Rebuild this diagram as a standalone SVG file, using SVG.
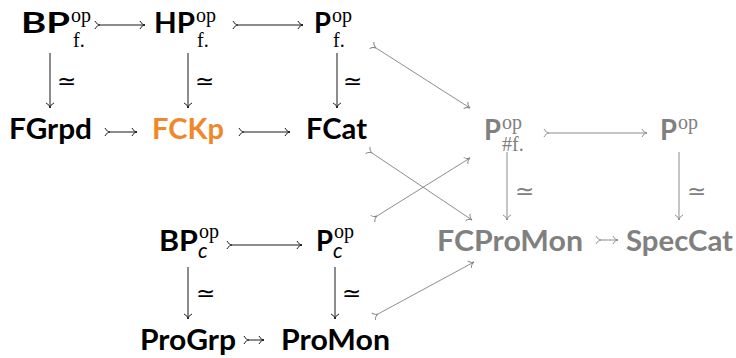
<svg xmlns="http://www.w3.org/2000/svg" width="736" height="358" viewBox="0 0 736 358">
<style>
.b{font-family:Lato,"Open Sans","Liberation Sans",sans-serif;font-weight:700;font-size:28px;fill:#000}
.s{font-family:"Liberation Serif","DejaVu Serif",serif;font-size:20px;fill:#000}
.i{font-family:Lato,"Open Sans",sans-serif;font-style:italic;font-size:21px;fill:#000}
.eq{font-family:"DejaVu Sans",sans-serif;font-weight:200;font-size:23px;fill:#000}
.g{fill:#808080}
.o{fill:#f0882a}
.k{fill:none;stroke:#000;stroke-width:0.9}
.kg{fill:none;stroke:#808080;stroke-width:0.9}
</style>
<defs>
<marker id="hb" viewBox="-6 -5 7 10" refX="0" refY="0" markerWidth="7" markerHeight="10" markerUnits="userSpaceOnUse" orient="auto"><path d="M-5,-4 C-4,-1.5 -1.5,-0.3 0,0 C-1.5,0.3 -4,1.5 -5,4" fill="none" stroke="#000" stroke-width="0.9"/></marker>
<marker id="hg" viewBox="-6 -5 7 10" refX="0" refY="0" markerWidth="7" markerHeight="10" markerUnits="userSpaceOnUse" orient="auto"><path d="M-5,-4 C-4,-1.5 -1.5,-0.3 0,0 C-1.5,0.3 -4,1.5 -5,4" fill="none" stroke="#808080" stroke-width="0.9"/></marker>
</defs>
<g id="connectors">
<path class="k" d="M100,25H145" marker-start="url(#hb)" marker-end="url(#hb)"/>
<path class="k" d="M238,25H303" marker-start="url(#hb)" marker-end="url(#hb)"/>
<path class="k" d="M110,132H137" marker-start="url(#hb)" marker-end="url(#hb)"/>
<path class="k" d="M244,132H290" marker-start="url(#hb)" marker-end="url(#hb)"/>
<path class="k" d="M232,245H302" marker-start="url(#hb)" marker-end="url(#hb)"/>
<path class="k" d="M249,340H264" marker-start="url(#hb)" marker-end="url(#hb)"/>
<path class="k" d="M50,53V108" marker-end="url(#hb)"/>
<path class="k" d="M188,53V108" marker-end="url(#hb)"/>
<path class="k" d="M337,53V108" marker-end="url(#hb)"/>
<path class="k" d="M188,267V319" marker-end="url(#hb)"/>
<path class="k" d="M335,267V319" marker-end="url(#hb)"/>
<text class="eq" x="57" y="89">≃</text>
<text class="eq" x="195" y="89">≃</text>
<text class="eq" x="343" y="89">≃</text>
<text class="eq" x="196" y="301">≃</text>
<text class="eq" x="342" y="301">≃</text>
<path class="kg" d="M549,133H647" marker-start="url(#hg)" marker-end="url(#hg)"/>
<path class="kg" d="M601,240H618" marker-start="url(#hg)" marker-end="url(#hg)"/>
<path class="kg" d="M507,152V220" marker-end="url(#hg)"/>
<path class="kg" d="M679,152V220" marker-end="url(#hg)"/>
<text class="eq g" x="515" y="199">≃</text>
<text class="eq g" x="687" y="199">≃</text>
<path class="kg" d="M376,48L470,108" marker-start="url(#hg)" marker-end="url(#hg)"/>
<path class="kg" d="M372,153L472,220" marker-start="url(#hg)" marker-end="url(#hg)"/>
<path class="kg" d="M377,216L470,158" marker-start="url(#hg)" marker-end="url(#hg)"/>
<path class="kg" d="M378,314L474,262" marker-start="url(#hg)" marker-end="url(#hg)"/>
</g>
<g id="BPf">
<text class="b" x="21" y="33" textLength="49" lengthAdjust="spacingAndGlyphs">BP</text>
<text class="s" x="71" y="22">op</text>
<text class="s" x="73" y="47">f.</text>
</g>
<g id="HPf">
<text class="b" x="154" y="33" textLength="41" lengthAdjust="spacingAndGlyphs">HP</text>
<text class="s" x="196" y="22">op</text>
<text class="s" x="197" y="47">f.</text>
</g>
<g id="Pf">
<text class="b" x="314" y="33" textLength="17" lengthAdjust="spacingAndGlyphs">P</text>
<text class="s" x="332" y="22">op</text>
<text class="s" x="333" y="47">f.</text>
</g>
<g id="FGrpd"><text class="b" x="9" y="139" textLength="83" lengthAdjust="spacingAndGlyphs">FGrpd</text></g>
<g id="FCKp"><text class="b o" x="152" y="139" textLength="72" lengthAdjust="spacingAndGlyphs">FCKp</text></g>
<g id="FCat"><text class="b" x="306" y="139" textLength="61" lengthAdjust="spacingAndGlyphs">FCat</text></g>
<g id="Psf">
<text class="b g" x="484" y="140" textLength="17" lengthAdjust="spacingAndGlyphs">P</text>
<text class="s g" x="502" y="129">op</text>
<text class="s g" x="502" y="151">#f.</text>
</g>
<g id="Pop">
<text class="b g" x="660" y="140" textLength="17" lengthAdjust="spacingAndGlyphs">P</text>
<text class="s g" x="678" y="129">op</text>
</g>
<g id="BPc">
<text class="b" x="159" y="251" textLength="39" lengthAdjust="spacingAndGlyphs">BP</text>
<text class="s" x="199" y="238">op</text>
<text class="i" x="198" y="258">c</text>
</g>
<g id="Pc">
<text class="b" x="316" y="251" textLength="17" lengthAdjust="spacingAndGlyphs">P</text>
<text class="s" x="334" y="238">op</text>
<text class="i" x="333" y="258">c</text>
</g>
<g id="FCProMon"><text class="b g" x="437" y="251" textLength="146" lengthAdjust="spacingAndGlyphs">FCProMon</text></g>
<g id="SpecCat"><text class="b g" x="626" y="251" textLength="107" lengthAdjust="spacingAndGlyphs">SpecCat</text></g>
<g id="ProGrp"><text class="b" x="140" y="350" textLength="96" lengthAdjust="spacingAndGlyphs">ProGrp</text></g>
<g id="ProMon"><text class="b" x="281" y="350" textLength="109" lengthAdjust="spacingAndGlyphs">ProMon</text></g>
</svg>
